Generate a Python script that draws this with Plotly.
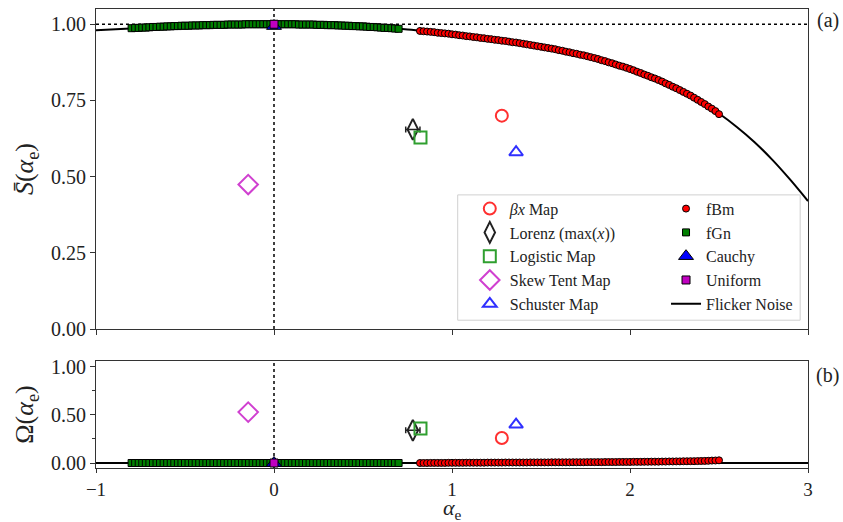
import plotly.graph_objects as go

# ---------------- data ----------------
flicker_x = [-1.0, -0.75, -0.5, -0.25, 0.0, 0.25, 0.5, 0.75, 1.0, 1.25, 1.5, 1.75,
             2.0, 2.1, 2.2, 2.3, 2.4, 2.5, 2.6, 2.7, 2.8, 2.9, 3.0]
flicker_S = [0.980, 0.988, 0.995, 0.999, 1.000, 0.998, 0.993, 0.983, 0.967, 0.948,
             0.926, 0.898, 0.853, 0.831, 0.806, 0.778, 0.745, 0.707, 0.663, 0.613,
             0.555, 0.490, 0.420]
flicker_O = [0.0] * len(flicker_x)

fgn_x = [-0.80, -0.78, -0.76, -0.74, -0.72, -0.70, -0.68, -0.66, -0.64, -0.62,
         -0.60, -0.58, -0.56, -0.54, -0.52, -0.50, -0.48, -0.46, -0.44, -0.42,
         -0.40, -0.38, -0.36, -0.34, -0.32, -0.30, -0.28, -0.26, -0.24, -0.22,
         -0.20, -0.18, -0.16, -0.14, -0.12, -0.10, -0.08, -0.06, -0.04, -0.02,
         0.00, 0.02, 0.04, 0.06, 0.08, 0.10, 0.12, 0.14, 0.16, 0.18,
         0.20, 0.22, 0.24, 0.26, 0.28, 0.30, 0.32, 0.34, 0.36, 0.38,
         0.40, 0.42, 0.44, 0.46, 0.48, 0.50, 0.52, 0.54, 0.56, 0.58,
         0.60, 0.62, 0.64, 0.66, 0.68, 0.70]
fgn_S = [0.987, 0.988, 0.988, 0.989, 0.989, 0.990, 0.991, 0.991, 0.992, 0.992,
         0.993, 0.993, 0.994, 0.994, 0.995, 0.995, 0.995, 0.996, 0.996, 0.996,
         0.997, 0.997, 0.997, 0.998, 0.998, 0.998, 0.998, 0.999, 0.999, 0.999,
         0.999, 0.999, 1.000, 1.000, 1.000, 1.000, 1.000, 1.000, 1.000, 1.000,
         1.000, 1.000, 1.000, 1.000, 1.000, 1.000, 1.000, 0.999, 0.999, 0.999,
         0.999, 0.999, 0.998, 0.998, 0.998, 0.997, 0.997, 0.997, 0.996, 0.996,
         0.995, 0.995, 0.994, 0.994, 0.993, 0.993, 0.992, 0.991, 0.991, 0.990,
         0.989, 0.988, 0.988, 0.987, 0.986, 0.985]
fgn_O = [0.0] * len(fgn_x)

fbm_x = [0.82, 0.84, 0.86, 0.88, 0.90, 0.92, 0.94, 0.96, 0.98, 1.00,
         1.02, 1.04, 1.06, 1.08, 1.10, 1.12, 1.14, 1.16, 1.18, 1.20,
         1.22, 1.24, 1.26, 1.28, 1.30, 1.32, 1.34, 1.36, 1.38, 1.40,
         1.42, 1.44, 1.46, 1.48, 1.50, 1.52, 1.54, 1.56, 1.58, 1.60,
         1.62, 1.64, 1.66, 1.68, 1.70, 1.72, 1.74, 1.76, 1.78, 1.80,
         1.82, 1.84, 1.86, 1.88, 1.90, 1.92, 1.94, 1.96, 1.98, 2.00,
         2.02, 2.04, 2.06, 2.08, 2.10, 2.12, 2.14, 2.16, 2.18, 2.20,
         2.22, 2.24, 2.26, 2.28, 2.30, 2.32, 2.34, 2.36, 2.38, 2.40,
         2.42, 2.44, 2.46, 2.48, 2.50]
fbm_S = [0.978, 0.977, 0.976, 0.975, 0.974, 0.972, 0.971, 0.970, 0.969, 0.967,
         0.966, 0.964, 0.963, 0.961, 0.960, 0.958, 0.957, 0.955, 0.954, 0.952,
         0.951, 0.949, 0.948, 0.946, 0.945, 0.943, 0.941, 0.940, 0.938, 0.936,
         0.934, 0.932, 0.930, 0.928, 0.926, 0.924, 0.922, 0.920, 0.918, 0.915,
         0.913, 0.910, 0.908, 0.905, 0.903, 0.900, 0.898, 0.895, 0.892, 0.889,
         0.886, 0.882, 0.879, 0.875, 0.872, 0.868, 0.864, 0.861, 0.857, 0.853,
         0.849, 0.844, 0.840, 0.835, 0.831, 0.826, 0.822, 0.817, 0.812, 0.806,
         0.801, 0.795, 0.790, 0.784, 0.778, 0.772, 0.766, 0.759, 0.752, 0.745,
         0.738, 0.730, 0.723, 0.715, 0.705]
fbm_O = [0.000, 0.000, 0.000, 0.001, 0.001, 0.001, 0.001, 0.001, 0.002, 0.002,
         0.002, 0.002, 0.002, 0.003, 0.003, 0.003, 0.003, 0.003, 0.003, 0.004,
         0.004, 0.004, 0.004, 0.004, 0.005, 0.005, 0.005, 0.005, 0.005, 0.005,
         0.005, 0.006, 0.006, 0.006, 0.006, 0.006, 0.006, 0.007, 0.007, 0.007,
         0.007, 0.007, 0.007, 0.008, 0.008, 0.008, 0.008, 0.009, 0.009, 0.009,
         0.009, 0.009, 0.010, 0.010, 0.010, 0.010, 0.011, 0.011, 0.011, 0.011,
         0.012, 0.012, 0.012, 0.013, 0.013, 0.014, 0.014, 0.014, 0.015, 0.015,
         0.016, 0.016, 0.017, 0.017, 0.018, 0.018, 0.019, 0.019, 0.020, 0.021,
         0.022, 0.023, 0.025, 0.026, 0.028]

# single systems: (alpha_e, S, Omega)
beta_pt = (1.28, 0.700, 0.26)
lorenz_pt = (0.78, 0.655, 0.34)
lorenz_err = 0.04
logistic_pt = (0.823, 0.628, 0.36)
skew_pt = (-0.145, 0.474, 0.53)
schuster_pt = (1.36, 0.580, 0.40)
cauchy_pt = (0.0, 0.994, 0.0)
uniform_pt = (0.0, 1.000, 0.0)

x_ticks = [-1, 0, 1, 2, 3]
x_ticklabels = ["\u22121", "0", "1", "2", "3"]
s_ticks = [0.0, 0.25, 0.5, 0.75, 1.0]
s_ticklabels = ["0.00", "0.25", "0.50", "0.75", "1.00"]
o_ticks = [0.0, 0.5, 1.0]
o_ticklabels = ["0.00", "0.50", "1.00"]

FONT = "Liberation Serif"
TXT = "#222222"

fig = go.Figure()

def add_pair(name, x, s, o, marker, legend, rank, mode="markers", line=None, error=None):
    kw = dict(marker=marker) if mode == "markers" else dict(line=line)
    fig.add_trace(go.Scatter(x=x, y=s, mode=mode, name=name, legend=legend,
                             legendrank=rank, xaxis="x", yaxis="y",
                             error_x=error, **kw))
    fig.add_trace(go.Scatter(x=x, y=o, mode=mode, name=name, showlegend=False,
                             xaxis="x2", yaxis="y2", error_x=error, **kw))

add_pair("Flicker Noise", flicker_x, flicker_S, flicker_O, None, "legend2", 5,
         mode="lines", line=dict(color="black", width=2, shape="spline", smoothing=0.8))
add_pair("fGn", fgn_x, fgn_S, fgn_O,
         dict(symbol="square", size=7, color="#007f00", line=dict(color="black", width=1)),
         "legend2", 2)
add_pair("fBm", fbm_x, fbm_S, fbm_O,
         dict(symbol="circle", size=7, color="#ff0000", line=dict(color="black", width=1)),
         "legend2", 1)
add_pair("Cauchy", [cauchy_pt[0]], [cauchy_pt[1]], [cauchy_pt[2]],
         dict(symbol="triangle-up", size=13, color="#0000ff", line=dict(color="black", width=1)),
         "legend2", 3)
add_pair("Uniform", [uniform_pt[0]], [uniform_pt[1]], [uniform_pt[2]],
         dict(symbol="square", size=8, color="#c000c0", line=dict(color="black", width=1)),
         "legend2", 4)

err = dict(type="constant", value=lorenz_err, color="#222222", thickness=1.5, width=3)
add_pair("Lorenz (max(<i>x</i>))", [lorenz_pt[0]], [lorenz_pt[1]], [lorenz_pt[2]],
         dict(symbol="diamond-tall-open", size=15, color="#222222", line=dict(width=2)),
         "legend", 2, error=err)
add_pair("Logistic Map", [logistic_pt[0]], [logistic_pt[1]], [logistic_pt[2]],
         dict(symbol="square-open", size=12, color="#2f9f2f", line=dict(width=2)),
         "legend", 3)
add_pair("<i>\u03b2x</i> Map", [beta_pt[0]], [beta_pt[1]], [beta_pt[2]],
         dict(symbol="circle-open", size=12, color="#ff3030", line=dict(width=2)),
         "legend", 1)
add_pair("Skew Tent Map", [skew_pt[0]], [skew_pt[1]], [skew_pt[2]],
         dict(symbol="diamond-open", size=15, color="#d040d0", line=dict(width=2)),
         "legend", 4)
add_pair("Schuster Map", [schuster_pt[0]], [schuster_pt[1]], [schuster_pt[2]],
         dict(symbol="triangle-up-open", size=12, color="#3030ff", line=dict(width=2)),
         "legend", 5)

axis_common = dict(showline=True, linecolor="#333333", linewidth=1, mirror=True,
                   ticks="outside", tickwidth=1, tickcolor="#333333",
                   showgrid=False, zeroline=False, automargin=False)
yfont = dict(family=FONT, size=20, color=TXT)
xfont = dict(family=FONT, size=19, color=TXT)

top_dom = [0.3028, 1.0]
bot_dom = [0.0, 0.2331]

fig.update_layout(
    width=843, height=522,
    margin=dict(l=96, r=35, t=9, b=54, autoexpand=False),
    paper_bgcolor="white", plot_bgcolor="white",
    font=dict(family=FONT, color=TXT),
    xaxis=dict(domain=[0, 1], range=[-1, 3], tickvals=x_ticks, ticktext=x_ticklabels,
               showticklabels=False, anchor="y", ticklen=5, tickfont=xfont, **axis_common),
    yaxis=dict(domain=top_dom, range=[0, 1.05], tickvals=s_ticks, ticktext=s_ticklabels,
               title=dict(text="<i>S\u0304</i>(<i>\u03b1</i><sub>e</sub>)",
                          font=dict(family=FONT, size=26), standoff=9),
               anchor="x", ticklen=5, tickfont=yfont, **axis_common),
    xaxis2=dict(domain=[0, 1], range=[-1, 3], tickvals=x_ticks, ticktext=x_ticklabels,
                anchor="y2", matches="x", ticklen=4, tickfont=xfont,
                **axis_common),
    yaxis2=dict(domain=bot_dom, range=[-0.052, 1.062], tickvals=o_ticks, ticktext=o_ticklabels,
                minor=dict(tickvals=[0.25, 0.75], ticks="outside", ticklen=3,
                           tickcolor="#333333"),
                title=dict(text="\u03a9(<i>\u03b1</i><sub>e</sub>)",
                           font=dict(family=FONT, size=26), standoff=9),
                anchor="x2", ticklen=5, tickfont=yfont, **axis_common),
    legend=dict(x=0.525, y=0.602, xanchor="left", yanchor="top",
                bgcolor="rgba(0,0,0,0)", borderwidth=0,
                font=dict(family=FONT, size=16, color=TXT),
                traceorder="normal", tracegroupgap=0),
    legend2=dict(x=0.8006, y=0.602, xanchor="left", yanchor="top",
                 bgcolor="rgba(0,0,0,0)", borderwidth=0,
                 font=dict(family=FONT, size=16, color=TXT),
                 traceorder="normal", tracegroupgap=0),
    showlegend=True,
)

shapes = [
    dict(type="rect", xref="paper", yref="paper", x0=0.508, x1=0.989, y0=0.322, y1=0.595,
         line=dict(color="#d0d0d0", width=1), fillcolor="rgba(255,255,255,0.8)", layer="below"),
    dict(type="line", xref="x", yref="y", x0=-1, x1=3, y0=1.0, y1=1.0,
         line=dict(color="black", width=1.5, dash="dot"), layer="below"),
    dict(type="line", xref="x", yref="y domain", x0=0, x1=0, y0=0, y1=1,
         line=dict(color="black", width=1.5, dash="dot"), layer="below"),
    dict(type="line", xref="x2", yref="y2 domain", x0=0, x1=0, y0=0, y1=1,
         line=dict(color="black", width=1.5, dash="dot"), layer="below"),
]
fig.update_layout(shapes=shapes)

fig.add_annotation(text="<i>\u03b1</i><sub>e</sub>", xref="paper", yref="paper",
                   x=0.5, y=-0.089, xanchor="center", yanchor="middle",
                   showarrow=False, font=dict(family=FONT, size=22, color=TXT))
fig.add_annotation(text="(a)", xref="paper", yref="paper", x=1.028, y=0.975,
                   xanchor="center", yanchor="middle",
                   showarrow=False, font=dict(family=FONT, size=20, color=TXT))
fig.add_annotation(text="(b)", xref="paper", yref="paper", x=1.028, y=0.2026,
                   xanchor="center", yanchor="middle",
                   showarrow=False, font=dict(family=FONT, size=20, color=TXT))

fig.write_html("out.html",
               config={"displayModeBar": False},
               post_script="document.body.style.margin='0px';"
                           "document.body.style.overflow='hidden';")
